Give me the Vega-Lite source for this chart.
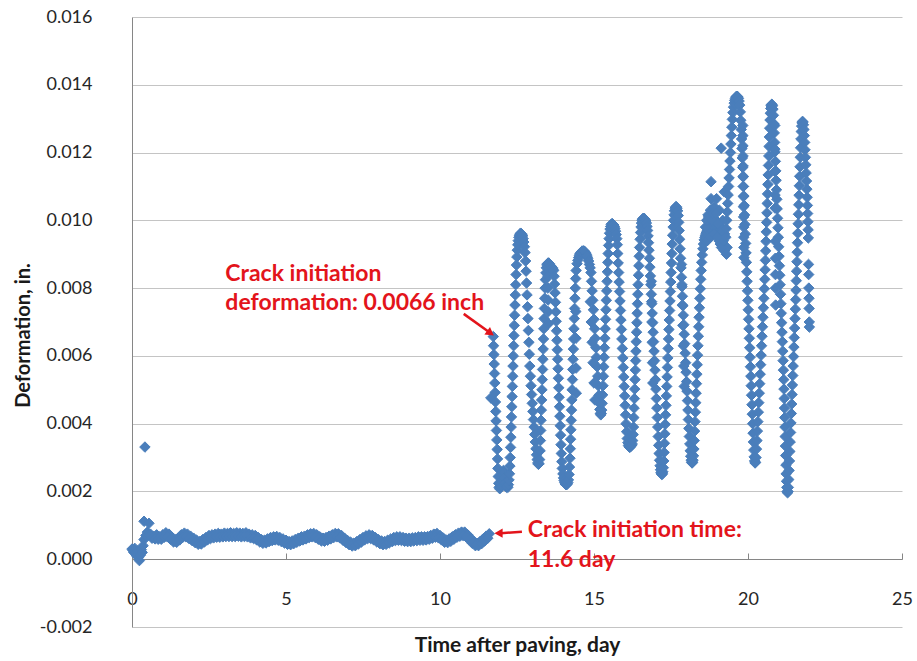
{
"$schema": "https://vega.github.io/schema/vega-lite/v6.json",
"width": 770, "height": 610,
"autosize": "none",
"padding": {"left": 132, "top": 17, "right": 15, "bottom": 34},
"background": "white",
"config": {"view": {"stroke": null}, "font": "Lato"},
"encoding": {
"x": {"field": "t", "type": "quantitative", "scale": {"domain": [0, 25], "nice": false, "zero": false},
"axis": {"title": "Time after paving, day", "values": [0,5,10,15,20,25], "grid": false, "offset": -68, "domainColor": "#868686", "tickColor": "#868686", "tickSize": -6, "labelPadding": 46, "labelBaseline": "middle", "labelFlush": false, "labelFont": "Lato", "labelFontSize": 18, "labelColor": "#262626", "titleFont": "Lato", "titleFontSize": 21, "titleFontWeight": "bold", "titleColor": "#1a1a1a", "titleY": 86, "titleBaseline": "middle"}},
"y": {"field": "v", "type": "quantitative", "scale": {"domain": [-0.002, 0.016], "nice": false, "zero": false},
"axis": {"title": "Deformation, in.", "values": [-0.002,0,0.002,0.004,0.006,0.008,0.01,0.012,0.014,0.016], "labelExpr": "datum.value < 0 ? '-' + format(-datum.value, '.3f') : format(datum.value, '.3f')", "grid": true, "gridColor": "#C4C4C4", "gridWidth": 1, "domainColor": "#868686", "ticks": false, "labelPadding": 40, "labelFont": "Lato", "labelFontSize": 18, "labelColor": "#262626", "titleFont": "Lato", "titleFontSize": 20, "titleFontWeight": "bold", "titleColor": "#1a1a1a", "titleAngle": -90, "titleX": -109, "titleY": 318, "titleBaseline": "middle", "titleAlign": "center"}}
},
"layer": [
{
"data": {"values": [
{"t":0.00,"v":0.00030},{"t":0.03,"v":0.00026},{"t":0.06,"v":0.00020},{"t":0.09,"v":0.00032},{"t":0.12,"v":0.00018},{"t":0.15,"v":0.00010},{"t":0.18,"v":0.00024},{"t":0.21,"v":0.00005},{"t":0.24,"v":-0.00004},{"t":0.27,"v":0.00012},{"t":0.30,"v":0.00028},{"t":0.33,"v":0.00020},{"t":0.36,"v":0.00040},{"t":0.39,"v":0.00058},{"t":0.39,"v":0.00112},{"t":0.42,"v":0.00331},{"t":0.55,"v":0.00106},{"t":0.45,"v":0.00070},{"t":0.50,"v":0.00080},{"t":0.55,"v":0.00072},
{"t":0.60,"v":0.00074},{"t":0.70,"v":0.00068},{"t":0.80,"v":0.00072},{"t":0.90,"v":0.00066},{"t":1.00,"v":0.00072},{"t":1.10,"v":0.00078},{"t":1.20,"v":0.00074},{"t":1.30,"v":0.00064},{"t":1.40,"v":0.00058},{"t":1.50,"v":0.00062},{"t":1.60,"v":0.00072},{"t":1.70,"v":0.00077},{"t":1.80,"v":0.00074},{"t":1.90,"v":0.00068},{"t":2.00,"v":0.00062},{"t":2.10,"v":0.00056},{"t":2.20,"v":0.00052},{"t":2.30,"v":0.00058},{"t":2.40,"v":0.00064},{"t":2.50,"v":0.00070},{"t":2.60,"v":0.00072},{"t":2.70,"v":0.00074},{"t":2.80,"v":0.00076},{"t":2.90,"v":0.00074},{"t":3.00,"v":0.00077},{"t":3.10,"v":0.00076},{"t":3.20,"v":0.00078},{"t":3.30,"v":0.00076},{"t":3.40,"v":0.00078},{"t":3.50,"v":0.00077},{"t":3.60,"v":0.00076},{"t":3.70,"v":0.00078},{"t":3.80,"v":0.00074},{"t":3.90,"v":0.00072},{"t":4.00,"v":0.00070},{"t":4.10,"v":0.00064},{"t":4.20,"v":0.00058},{"t":4.30,"v":0.00056},{"t":4.40,"v":0.00060},{"t":4.50,"v":0.00064},{"t":4.60,"v":0.00066},{"t":4.70,"v":0.00067},{"t":4.80,"v":0.00064},{"t":4.90,"v":0.00060},{"t":5.00,"v":0.00056},{"t":5.10,"v":0.00052},{"t":5.20,"v":0.00054},{"t":5.30,"v":0.00058},{"t":5.40,"v":0.00062},{"t":5.50,"v":0.00066},{"t":5.60,"v":0.00068},{"t":5.70,"v":0.00072},{"t":5.80,"v":0.00075},{"t":5.90,"v":0.00076},{"t":6.00,"v":0.00072},{"t":6.10,"v":0.00066},{"t":6.20,"v":0.00062},{"t":6.30,"v":0.00064},{"t":6.40,"v":0.00068},{"t":6.50,"v":0.00072},{"t":6.60,"v":0.00076},{"t":6.70,"v":0.00075},{"t":6.80,"v":0.00070},{"t":6.90,"v":0.00062},{"t":7.00,"v":0.00055},{"t":7.10,"v":0.00050},{"t":7.20,"v":0.00047},{"t":7.30,"v":0.00052},{"t":7.40,"v":0.00058},{"t":7.50,"v":0.00064},{"t":7.60,"v":0.00069},{"t":7.70,"v":0.00072},{"t":7.80,"v":0.00070},{"t":7.90,"v":0.00064},{"t":8.00,"v":0.00058},{"t":8.10,"v":0.00054},{"t":8.20,"v":0.00052},{"t":8.30,"v":0.00056},{"t":8.40,"v":0.00060},{"t":8.50,"v":0.00064},{"t":8.60,"v":0.00066},{"t":8.70,"v":0.00066},{"t":8.80,"v":0.00064},{"t":8.90,"v":0.00062},{"t":9.00,"v":0.00062},{"t":9.10,"v":0.00063},{"t":9.20,"v":0.00064},{"t":9.30,"v":0.00066},{"t":9.40,"v":0.00066},{"t":9.50,"v":0.00066},{"t":9.60,"v":0.00067},{"t":9.70,"v":0.00070},{"t":9.80,"v":0.00074},{"t":9.90,"v":0.00076},{"t":10.00,"v":0.00070},{"t":10.10,"v":0.00063},{"t":10.20,"v":0.00057},{"t":10.30,"v":0.00060},{"t":10.40,"v":0.00066},{"t":10.50,"v":0.00072},{"t":10.60,"v":0.00077},{"t":10.70,"v":0.00080},{"t":10.80,"v":0.00080},{"t":10.90,"v":0.00072},{"t":11.00,"v":0.00062},{"t":11.10,"v":0.00052},{"t":11.20,"v":0.00047},{"t":11.30,"v":0.00052},{"t":11.40,"v":0.00060},{"t":11.50,"v":0.00068},{"t":11.60,"v":0.00075},
{"t":0.65,"v":0.00062},{"t":0.75,"v":0.00060},{"t":0.85,"v":0.00059},{"t":0.95,"v":0.00059},{"t":1.05,"v":0.00065},{"t":1.15,"v":0.00066},{"t":1.25,"v":0.00059},{"t":1.35,"v":0.00051},{"t":1.45,"v":0.00050},{"t":1.55,"v":0.00057},{"t":1.65,"v":0.00065},{"t":1.75,"v":0.00066},{"t":1.85,"v":0.00061},{"t":1.95,"v":0.00055},{"t":2.05,"v":0.00049},{"t":2.15,"v":0.00044},{"t":2.25,"v":0.00045},{"t":2.35,"v":0.00051},{"t":2.45,"v":0.00057},{"t":2.55,"v":0.00061},{"t":2.65,"v":0.00063},{"t":2.75,"v":0.00065},{"t":2.85,"v":0.00065},{"t":2.95,"v":0.00066},{"t":3.05,"v":0.00067},{"t":3.15,"v":0.00067},{"t":3.25,"v":0.00067},{"t":3.35,"v":0.00067},{"t":3.45,"v":0.00068},{"t":3.55,"v":0.00066},{"t":3.65,"v":0.00067},{"t":3.75,"v":0.00066},{"t":3.85,"v":0.00063},{"t":3.95,"v":0.00061},{"t":4.05,"v":0.00057},{"t":4.15,"v":0.00051},{"t":4.25,"v":0.00047},{"t":4.35,"v":0.00048},{"t":4.45,"v":0.00052},{"t":4.55,"v":0.00055},{"t":4.65,"v":0.00057},{"t":4.75,"v":0.00056},{"t":4.85,"v":0.00052},{"t":4.95,"v":0.00048},{"t":5.05,"v":0.00044},{"t":5.15,"v":0.00043},{"t":5.25,"v":0.00046},{"t":5.35,"v":0.00050},{"t":5.45,"v":0.00054},{"t":5.55,"v":0.00057},{"t":5.65,"v":0.00060},{"t":5.75,"v":0.00064},{"t":5.85,"v":0.00066},{"t":5.95,"v":0.00064},{"t":6.05,"v":0.00059},{"t":6.15,"v":0.00054},{"t":6.25,"v":0.00053},{"t":6.35,"v":0.00056},{"t":6.45,"v":0.00060},{"t":6.55,"v":0.00064},{"t":6.65,"v":0.00066},{"t":6.75,"v":0.00063},{"t":6.85,"v":0.00056},{"t":6.95,"v":0.00049},{"t":7.05,"v":0.00043},{"t":7.15,"v":0.00039},{"t":7.25,"v":0.00040},{"t":7.35,"v":0.00045},{"t":7.45,"v":0.00051},{"t":7.55,"v":0.00057},{"t":7.65,"v":0.00061},{"t":7.75,"v":0.00061},{"t":7.85,"v":0.00057},{"t":7.95,"v":0.00051},{"t":8.05,"v":0.00046},{"t":8.15,"v":0.00043},{"t":8.25,"v":0.00044},{"t":8.35,"v":0.00048},{"t":8.45,"v":0.00052},{"t":8.55,"v":0.00055},{"t":8.65,"v":0.00056},{"t":8.75,"v":0.00055},{"t":8.85,"v":0.00053},{"t":8.95,"v":0.00052},{"t":9.05,"v":0.00052},{"t":9.15,"v":0.00054},{"t":9.25,"v":0.00055},{"t":9.35,"v":0.00056},{"t":9.45,"v":0.00056},{"t":9.55,"v":0.00057},{"t":9.65,"v":0.00059},{"t":9.75,"v":0.00062},{"t":9.85,"v":0.00065},{"t":9.95,"v":0.00063},{"t":10.05,"v":0.00057},{"t":10.15,"v":0.00050},{"t":10.25,"v":0.00049},{"t":10.35,"v":0.00053},{"t":10.45,"v":0.00059},{"t":10.55,"v":0.00065},{"t":10.65,"v":0.00068},{"t":10.75,"v":0.00070},{"t":10.85,"v":0.00066},{"t":10.95,"v":0.00057},{"t":11.05,"v":0.00047},{"t":11.15,"v":0.00040},{"t":11.25,"v":0.00040},{"t":11.35,"v":0.00046},{"t":11.45,"v":0.00054},{"t":11.55,"v":0.00062},
{"t":11.650,"v":0.00476},{"t":11.730,"v":0.00657},{"t":11.740,"v":0.00630},{"t":11.750,"v":0.00604},{"t":11.760,"v":0.00576},{"t":11.770,"v":0.00548},{"t":11.780,"v":0.00520},{"t":11.790,"v":0.00492},{"t":11.800,"v":0.00464},{"t":11.810,"v":0.00436},{"t":11.820,"v":0.00408},{"t":11.832,"v":0.00380},{"t":11.844,"v":0.00352},{"t":11.856,"v":0.00324},{"t":11.868,"v":0.00296},{"t":11.880,"v":0.00268},{"t":11.892,"v":0.00244},{"t":11.905,"v":0.00224},
{"t":11.920,"v":0.00212},{"t":11.940,"v":0.00208},{"t":11.960,"v":0.00214},{"t":11.980,"v":0.00222},{"t":12.000,"v":0.00216},{"t":12.020,"v":0.00232},{"t":12.040,"v":0.00250},{"t":12.060,"v":0.00262},{"t":12.080,"v":0.00256},{"t":12.100,"v":0.00240},{"t":12.120,"v":0.00226},{"t":12.140,"v":0.00216},{"t":12.160,"v":0.00212},{"t":12.180,"v":0.00214},{"t":12.200,"v":0.00212},{"t":12.220,"v":0.00220},{"t":12.240,"v":0.00234},{"t":12.255,"v":0.00252},
{"t":12.270,"v":0.00275},{"t":12.280,"v":0.00300},{"t":12.290,"v":0.00330},{"t":12.300,"v":0.00360},{"t":12.310,"v":0.00390},{"t":12.320,"v":0.00420},{"t":12.330,"v":0.00450},{"t":12.340,"v":0.00480},{"t":12.350,"v":0.00510},{"t":12.360,"v":0.00540},{"t":12.370,"v":0.00570},{"t":12.380,"v":0.00600},{"t":12.390,"v":0.00630},{"t":12.400,"v":0.00660},{"t":12.410,"v":0.00690},{"t":12.422,"v":0.00720},{"t":12.434,"v":0.00750},{"t":12.446,"v":0.00780},{"t":12.458,"v":0.00810},{"t":12.470,"v":0.00840},{"t":12.482,"v":0.00868},{"t":12.495,"v":0.00892},{"t":12.510,"v":0.00912},{"t":12.525,"v":0.00928},{"t":12.540,"v":0.00940},
{"t":12.560,"v":0.00950},{"t":12.580,"v":0.00956},{"t":12.600,"v":0.00960},{"t":12.620,"v":0.00962},{"t":12.640,"v":0.00960},{"t":12.660,"v":0.00958},{"t":12.680,"v":0.00954},{"t":12.700,"v":0.00946},{"t":12.720,"v":0.00936},{"t":12.740,"v":0.00922},
{"t":12.760,"v":0.00905},{"t":12.780,"v":0.00880},{"t":12.795,"v":0.00850},{"t":12.810,"v":0.00815},{"t":12.825,"v":0.00780},{"t":12.840,"v":0.00745},{"t":12.855,"v":0.00710},{"t":12.870,"v":0.00675},{"t":12.885,"v":0.00640},{"t":12.900,"v":0.00605},{"t":12.915,"v":0.00570},{"t":12.935,"v":0.00540},{"t":12.955,"v":0.00512},{"t":12.975,"v":0.00486},{"t":12.995,"v":0.00460},{"t":13.015,"v":0.00436},{"t":13.035,"v":0.00412},{"t":13.055,"v":0.00390},{"t":13.075,"v":0.00368},{"t":13.095,"v":0.00346},{"t":13.115,"v":0.00326},{"t":13.135,"v":0.00308},{"t":13.155,"v":0.00294},{"t":13.175,"v":0.00284},{"t":13.195,"v":0.00280},{"t":13.215,"v":0.00282},{"t":13.235,"v":0.00294},
{"t":13.250,"v":0.00320},{"t":13.260,"v":0.00350},{"t":13.270,"v":0.00380},{"t":13.280,"v":0.00410},{"t":13.290,"v":0.00440},{"t":13.300,"v":0.00470},{"t":13.310,"v":0.00500},{"t":13.320,"v":0.00530},{"t":13.330,"v":0.00560},{"t":13.340,"v":0.00590},{"t":13.350,"v":0.00620},{"t":13.360,"v":0.00650},{"t":13.370,"v":0.00680},{"t":13.380,"v":0.00710},{"t":13.390,"v":0.00740},{"t":13.400,"v":0.00770},{"t":13.412,"v":0.00800},{"t":13.424,"v":0.00825},{"t":13.438,"v":0.00845},{"t":13.452,"v":0.00860},
{"t":13.470,"v":0.00868},{"t":13.490,"v":0.00872},{"t":13.510,"v":0.00874},{"t":13.530,"v":0.00874},{"t":13.550,"v":0.00872},{"t":13.570,"v":0.00868},{"t":13.590,"v":0.00866},{"t":13.610,"v":0.00864},{"t":13.630,"v":0.00862},{"t":13.650,"v":0.00860},{"t":13.670,"v":0.00856},{"t":13.690,"v":0.00852},
{"t":13.500,"v":0.00835},{"t":13.505,"v":0.00800},{"t":13.510,"v":0.00765},{"t":13.515,"v":0.00730},{"t":13.520,"v":0.00695},
{"t":13.705,"v":0.00835},{"t":13.720,"v":0.00812},{"t":13.735,"v":0.00786},{"t":13.748,"v":0.00758},{"t":13.760,"v":0.00730},{"t":13.772,"v":0.00702},{"t":13.784,"v":0.00674},{"t":13.796,"v":0.00646},{"t":13.808,"v":0.00618},{"t":13.820,"v":0.00590},{"t":13.832,"v":0.00562},{"t":13.844,"v":0.00534},{"t":13.856,"v":0.00506},{"t":13.868,"v":0.00478},{"t":13.880,"v":0.00450},{"t":13.892,"v":0.00422},{"t":13.904,"v":0.00394},{"t":13.916,"v":0.00366},{"t":13.928,"v":0.00338},{"t":13.940,"v":0.00312},{"t":13.955,"v":0.00288},{"t":13.970,"v":0.00268},{"t":13.990,"v":0.00252},{"t":14.010,"v":0.00240},{"t":14.030,"v":0.00232},{"t":14.050,"v":0.00226},{"t":14.070,"v":0.00222},{"t":14.090,"v":0.00220},{"t":14.110,"v":0.00220},{"t":14.130,"v":0.00222},{"t":14.150,"v":0.00226},{"t":14.170,"v":0.00234},
{"t":14.190,"v":0.00250},{"t":14.205,"v":0.00272},{"t":14.220,"v":0.00298},{"t":14.230,"v":0.00326},{"t":14.240,"v":0.00354},{"t":14.250,"v":0.00382},{"t":14.260,"v":0.00410},{"t":14.270,"v":0.00440},{"t":14.280,"v":0.00470},{"t":14.290,"v":0.00500},{"t":14.300,"v":0.00530},{"t":14.310,"v":0.00560},{"t":14.320,"v":0.00590},{"t":14.330,"v":0.00620},{"t":14.340,"v":0.00650},{"t":14.350,"v":0.00680},{"t":14.360,"v":0.00710},{"t":14.370,"v":0.00740},{"t":14.380,"v":0.00770},{"t":14.392,"v":0.00800},{"t":14.405,"v":0.00828},{"t":14.420,"v":0.00852},
{"t":14.410,"v":0.00731},{"t":14.415,"v":0.00652},{"t":14.420,"v":0.00564},{"t":14.425,"v":0.00490},
{"t":14.450,"v":0.00872},{"t":14.500,"v":0.00890},{"t":14.550,"v":0.00902},{"t":14.600,"v":0.00908},{"t":14.650,"v":0.00910},{"t":14.700,"v":0.00908},{"t":14.750,"v":0.00900},{"t":14.800,"v":0.00888},{"t":14.850,"v":0.00870},{"t":14.900,"v":0.00846},{"t":14.475,"v":0.00882},{"t":14.525,"v":0.00897},{"t":14.575,"v":0.00905},{"t":14.625,"v":0.00909},{"t":14.675,"v":0.00909},{"t":14.725,"v":0.00904},{"t":14.775,"v":0.00895},{"t":14.825,"v":0.00880},{"t":14.875,"v":0.00860},
{"t":14.920,"v":0.00820},{"t":14.940,"v":0.00792},{"t":14.960,"v":0.00764},{"t":14.980,"v":0.00736},{"t":15.000,"v":0.00708},{"t":15.020,"v":0.00680},{"t":15.040,"v":0.00652},{"t":15.060,"v":0.00624},{"t":15.080,"v":0.00596},{"t":15.100,"v":0.00568},{"t":15.120,"v":0.00540},{"t":15.140,"v":0.00512},{"t":15.160,"v":0.00484},{"t":15.175,"v":0.00460},{"t":15.190,"v":0.00442},{"t":15.205,"v":0.00430},{"t":15.220,"v":0.00426},{"t":15.235,"v":0.00430},
{"t":14.880,"v":0.00760},{"t":14.910,"v":0.00700},{"t":14.940,"v":0.00640},{"t":14.970,"v":0.00580},{"t":15.000,"v":0.00520},{"t":15.030,"v":0.00470},
{"t":15.250,"v":0.00440},{"t":15.265,"v":0.00460},{"t":15.280,"v":0.00485},{"t":15.292,"v":0.00512},{"t":15.304,"v":0.00540},{"t":15.316,"v":0.00568},{"t":15.328,"v":0.00596},{"t":15.340,"v":0.00624},{"t":15.352,"v":0.00652},{"t":15.364,"v":0.00680},{"t":15.376,"v":0.00708},{"t":15.388,"v":0.00736},{"t":15.400,"v":0.00764},{"t":15.412,"v":0.00792},{"t":15.424,"v":0.00820},{"t":15.436,"v":0.00848},{"t":15.448,"v":0.00876},{"t":15.460,"v":0.00902},{"t":15.475,"v":0.00926},{"t":15.490,"v":0.00946},{"t":15.505,"v":0.00962},{"t":15.520,"v":0.00974},
{"t":15.540,"v":0.00982},{"t":15.560,"v":0.00988},{"t":15.580,"v":0.00990},{"t":15.600,"v":0.00990},{"t":15.620,"v":0.00988},{"t":15.640,"v":0.00986},{"t":15.660,"v":0.00982},{"t":15.680,"v":0.00976},{"t":15.700,"v":0.00968},{"t":15.720,"v":0.00958},{"t":15.740,"v":0.00946},
{"t":15.755,"v":0.00928},{"t":15.770,"v":0.00902},{"t":15.785,"v":0.00874},{"t":15.800,"v":0.00846},{"t":15.815,"v":0.00818},{"t":15.830,"v":0.00790},{"t":15.845,"v":0.00762},{"t":15.860,"v":0.00734},{"t":15.875,"v":0.00706},{"t":15.890,"v":0.00678},{"t":15.905,"v":0.00650},{"t":15.920,"v":0.00622},{"t":15.935,"v":0.00594},{"t":15.950,"v":0.00566},{"t":15.965,"v":0.00538},{"t":15.980,"v":0.00510},{"t":15.995,"v":0.00482},{"t":16.010,"v":0.00454},{"t":16.025,"v":0.00426},{"t":16.040,"v":0.00400},{"t":16.060,"v":0.00376},{"t":16.080,"v":0.00356},{"t":16.100,"v":0.00344},{"t":16.120,"v":0.00336},{"t":16.140,"v":0.00332},{"t":16.160,"v":0.00330},{"t":16.180,"v":0.00332},{"t":16.200,"v":0.00334},{"t":16.220,"v":0.00336},{"t":16.240,"v":0.00340},
{"t":16.255,"v":0.00350},{"t":16.270,"v":0.00368},{"t":16.282,"v":0.00390},{"t":16.292,"v":0.00418},{"t":16.302,"v":0.00446},{"t":16.312,"v":0.00474},{"t":16.322,"v":0.00502},{"t":16.332,"v":0.00530},{"t":16.342,"v":0.00558},{"t":16.352,"v":0.00586},{"t":16.362,"v":0.00614},{"t":16.372,"v":0.00642},{"t":16.382,"v":0.00670},{"t":16.392,"v":0.00698},{"t":16.402,"v":0.00726},{"t":16.412,"v":0.00754},{"t":16.422,"v":0.00782},{"t":16.432,"v":0.00810},{"t":16.444,"v":0.00838},{"t":16.456,"v":0.00866},{"t":16.468,"v":0.00894},{"t":16.482,"v":0.00920},{"t":16.497,"v":0.00944},{"t":16.512,"v":0.00964},{"t":16.527,"v":0.00980},{"t":16.542,"v":0.00992},
{"t":16.560,"v":0.01000},{"t":16.580,"v":0.01004},{"t":16.600,"v":0.01006},{"t":16.620,"v":0.01006},{"t":16.640,"v":0.01004},{"t":16.660,"v":0.01002},{"t":16.680,"v":0.00998},{"t":16.700,"v":0.00992},{"t":16.720,"v":0.00982},{"t":16.740,"v":0.00970},
{"t":16.755,"v":0.00954},{"t":16.770,"v":0.00934},{"t":16.785,"v":0.00912},{"t":16.800,"v":0.00888},{"t":16.815,"v":0.00862},{"t":16.830,"v":0.00836},{"t":16.845,"v":0.00810},{"t":16.860,"v":0.00782},{"t":16.875,"v":0.00754},{"t":16.890,"v":0.00726},{"t":16.905,"v":0.00698},{"t":16.920,"v":0.00670},{"t":16.935,"v":0.00642},{"t":16.950,"v":0.00614},{"t":16.965,"v":0.00586},{"t":16.980,"v":0.00558},{"t":16.995,"v":0.00530},{"t":17.010,"v":0.00502},{"t":17.025,"v":0.00474},{"t":17.040,"v":0.00446},{"t":17.055,"v":0.00418},{"t":17.070,"v":0.00390},{"t":17.085,"v":0.00362},{"t":17.100,"v":0.00336},{"t":17.115,"v":0.00312},{"t":17.130,"v":0.00292},{"t":17.145,"v":0.00276},{"t":17.160,"v":0.00264},{"t":17.175,"v":0.00256},{"t":17.190,"v":0.00252},{"t":17.205,"v":0.00250},{"t":17.220,"v":0.00252},{"t":17.235,"v":0.00258},
{"t":16.860,"v":0.00820},{"t":16.870,"v":0.00760},{"t":16.880,"v":0.00700},{"t":16.890,"v":0.00640},{"t":16.900,"v":0.00580},{"t":16.910,"v":0.00520},
{"t":17.250,"v":0.00270},{"t":17.264,"v":0.00290},{"t":17.276,"v":0.00315},{"t":17.288,"v":0.00342},{"t":17.300,"v":0.00370},{"t":17.312,"v":0.00398},{"t":17.324,"v":0.00426},{"t":17.336,"v":0.00454},{"t":17.348,"v":0.00482},{"t":17.360,"v":0.00510},{"t":17.372,"v":0.00538},{"t":17.384,"v":0.00566},{"t":17.396,"v":0.00594},{"t":17.408,"v":0.00622},{"t":17.420,"v":0.00650},{"t":17.432,"v":0.00678},{"t":17.444,"v":0.00706},{"t":17.456,"v":0.00734},{"t":17.468,"v":0.00762},{"t":17.480,"v":0.00790},{"t":17.492,"v":0.00818},{"t":17.504,"v":0.00846},{"t":17.516,"v":0.00874},{"t":17.528,"v":0.00902},{"t":17.540,"v":0.00930},{"t":17.554,"v":0.00956},{"t":17.569,"v":0.00980},{"t":17.584,"v":0.01000},{"t":17.599,"v":0.01016},{"t":17.614,"v":0.01028},
{"t":17.635,"v":0.01036},{"t":17.655,"v":0.01040},{"t":17.675,"v":0.01040},{"t":17.695,"v":0.01036},{"t":17.715,"v":0.01028},
{"t":17.735,"v":0.01014},{"t":17.750,"v":0.00994},{"t":17.765,"v":0.00970},{"t":17.780,"v":0.00944},{"t":17.795,"v":0.00916},{"t":17.810,"v":0.00888},{"t":17.825,"v":0.00860},{"t":17.840,"v":0.00832},{"t":17.855,"v":0.00804},{"t":17.870,"v":0.00776},{"t":17.885,"v":0.00748},{"t":17.900,"v":0.00720},{"t":17.915,"v":0.00692},{"t":17.930,"v":0.00664},{"t":17.945,"v":0.00636},{"t":17.960,"v":0.00608},{"t":17.975,"v":0.00580},{"t":17.990,"v":0.00552},{"t":18.005,"v":0.00524},{"t":18.020,"v":0.00496},{"t":18.035,"v":0.00468},{"t":18.050,"v":0.00440},{"t":18.065,"v":0.00412},{"t":18.080,"v":0.00386},{"t":18.095,"v":0.00362},{"t":18.110,"v":0.00340},{"t":18.125,"v":0.00320},{"t":18.140,"v":0.00304},{"t":18.155,"v":0.00292},{"t":18.170,"v":0.00286},{"t":18.185,"v":0.00284},{"t":18.200,"v":0.00286},{"t":18.215,"v":0.00292},
{"t":17.840,"v":0.00870},{"t":17.855,"v":0.00810},{"t":17.870,"v":0.00750},{"t":17.885,"v":0.00690},{"t":17.900,"v":0.00630},{"t":17.915,"v":0.00570},{"t":17.930,"v":0.00510},
{"t":18.230,"v":0.00305},{"t":18.243,"v":0.00325},{"t":18.255,"v":0.00350},{"t":18.267,"v":0.00378},{"t":18.279,"v":0.00406},{"t":18.291,"v":0.00434},{"t":18.303,"v":0.00462},{"t":18.315,"v":0.00490},{"t":18.327,"v":0.00518},{"t":18.339,"v":0.00546},{"t":18.351,"v":0.00574},{"t":18.363,"v":0.00602},{"t":18.375,"v":0.00630},{"t":18.387,"v":0.00658},{"t":18.399,"v":0.00686},{"t":18.411,"v":0.00714},{"t":18.423,"v":0.00742},{"t":18.435,"v":0.00770},{"t":18.450,"v":0.00798},{"t":18.465,"v":0.00826},{"t":18.480,"v":0.00852},{"t":18.495,"v":0.00876},{"t":18.515,"v":0.00898},{"t":18.535,"v":0.00916},{"t":18.555,"v":0.00930},{"t":18.575,"v":0.00942},
{"t":18.600,"v":0.00950},{"t":18.620,"v":0.00956},{"t":18.640,"v":0.00962},{"t":18.660,"v":0.00966},{"t":18.680,"v":0.00970},{"t":18.700,"v":0.00974},{"t":18.720,"v":0.00980},{"t":18.740,"v":0.00984},{"t":18.760,"v":0.00990},{"t":18.780,"v":0.00986},{"t":18.800,"v":0.00978},{"t":18.820,"v":0.00970},{"t":18.840,"v":0.00976},{"t":18.860,"v":0.00984},{"t":18.880,"v":0.00992},{"t":18.900,"v":0.00998},{"t":18.920,"v":0.01004},{"t":18.940,"v":0.01000},{"t":18.960,"v":0.00990},{"t":18.980,"v":0.00980},{"t":19.000,"v":0.00972},{"t":19.020,"v":0.00966},{"t":19.040,"v":0.00962},{"t":19.060,"v":0.00966},{"t":19.080,"v":0.00974},{"t":19.100,"v":0.00984},{"t":19.120,"v":0.00978},{"t":19.140,"v":0.00964},{"t":19.160,"v":0.00950},{"t":19.180,"v":0.00936},{"t":19.200,"v":0.00922},{"t":19.220,"v":0.00912},{"t":19.240,"v":0.00910},{"t":19.260,"v":0.00920},
{"t":18.700,"v":0.01016},{"t":18.780,"v":0.01030},{"t":18.800,"v":0.01064},{"t":18.800,"v":0.01114},{"t":18.900,"v":0.01040},{"t":18.980,"v":0.01064},{"t":19.070,"v":0.01030},{"t":19.130,"v":0.01213},{"t":19.230,"v":0.01084},{"t":19.180,"v":0.01000},{"t":19.300,"v":0.00900},{"t":19.320,"v":0.00920},
{"t":18.620,"v":0.00980},{"t":18.660,"v":0.01000},{"t":18.720,"v":0.01010},{"t":18.840,"v":0.01000},{"t":18.860,"v":0.01020},{"t":18.960,"v":0.01020},{"t":19.020,"v":0.00990},{"t":19.060,"v":0.00940},{"t":19.100,"v":0.00930},{"t":19.140,"v":0.00920},{"t":19.200,"v":0.00940},{"t":19.240,"v":0.00960},{"t":18.680,"v":0.00940},{"t":18.780,"v":0.00950},{"t":18.900,"v":0.00960},{"t":19.000,"v":0.00950},
{"t":19.280,"v":0.00950},{"t":19.295,"v":0.00975},{"t":19.310,"v":0.01000},{"t":19.325,"v":0.01025},{"t":19.340,"v":0.01050},{"t":19.355,"v":0.01075},{"t":19.370,"v":0.01100},{"t":19.385,"v":0.01125},{"t":19.400,"v":0.01150},{"t":19.415,"v":0.01175},{"t":19.430,"v":0.01200},{"t":19.445,"v":0.01225},{"t":19.460,"v":0.01250},{"t":19.475,"v":0.01275},{"t":19.492,"v":0.01298},{"t":19.510,"v":0.01318},{"t":19.530,"v":0.01334},{"t":19.550,"v":0.01346},
{"t":19.570,"v":0.01354},{"t":19.590,"v":0.01360},{"t":19.610,"v":0.01364},{"t":19.630,"v":0.01366},{"t":19.650,"v":0.01366},{"t":19.670,"v":0.01364},{"t":19.690,"v":0.01360},{"t":19.710,"v":0.01352},{"t":19.730,"v":0.01340},
{"t":19.750,"v":0.01320},{"t":19.765,"v":0.01295},{"t":19.780,"v":0.01268},{"t":19.792,"v":0.01240},{"t":19.804,"v":0.01212},{"t":19.816,"v":0.01184},{"t":19.828,"v":0.01156},{"t":19.840,"v":0.01128},{"t":19.852,"v":0.01100},{"t":19.864,"v":0.01072},{"t":19.876,"v":0.01044},{"t":19.888,"v":0.01016},{"t":19.900,"v":0.00988},{"t":19.912,"v":0.00960},{"t":19.924,"v":0.00932},{"t":19.936,"v":0.00904},{"t":19.948,"v":0.00876},{"t":19.960,"v":0.00848},{"t":19.972,"v":0.00820},{"t":19.984,"v":0.00792},{"t":19.996,"v":0.00764},{"t":20.008,"v":0.00736},{"t":20.020,"v":0.00708},{"t":20.032,"v":0.00680},{"t":20.044,"v":0.00652},{"t":20.056,"v":0.00624},{"t":20.068,"v":0.00596},{"t":20.080,"v":0.00568},{"t":20.092,"v":0.00540},{"t":20.104,"v":0.00512},{"t":20.116,"v":0.00484},{"t":20.128,"v":0.00456},{"t":20.140,"v":0.00428},{"t":20.152,"v":0.00400},{"t":20.164,"v":0.00372},{"t":20.176,"v":0.00346},{"t":20.188,"v":0.00322},{"t":20.200,"v":0.00302},{"t":20.215,"v":0.00290},{"t":20.230,"v":0.00284},{"t":20.245,"v":0.00286},
{"t":19.830,"v":0.01280},{"t":19.833,"v":0.01250},{"t":19.836,"v":0.01220},{"t":19.839,"v":0.01190},{"t":19.842,"v":0.01160},{"t":19.845,"v":0.01130},{"t":19.848,"v":0.01100},{"t":19.851,"v":0.01070},{"t":19.854,"v":0.01040},{"t":19.857,"v":0.01010},{"t":19.860,"v":0.00980},{"t":19.863,"v":0.00950},{"t":19.866,"v":0.00920},{"t":19.869,"v":0.00890},
{"t":20.260,"v":0.00300},{"t":20.275,"v":0.00325},{"t":20.290,"v":0.00350},{"t":20.305,"v":0.00378},{"t":20.320,"v":0.00406},{"t":20.335,"v":0.00434},{"t":20.350,"v":0.00462},{"t":20.365,"v":0.00490},{"t":20.380,"v":0.00518},{"t":20.395,"v":0.00546},{"t":20.410,"v":0.00574},{"t":20.425,"v":0.00602},{"t":20.440,"v":0.00630},{"t":20.455,"v":0.00658},{"t":20.470,"v":0.00686},{"t":20.485,"v":0.00714},{"t":20.500,"v":0.00742},{"t":20.515,"v":0.00770},{"t":20.530,"v":0.00798},{"t":20.545,"v":0.00826},{"t":20.555,"v":0.00854},{"t":20.565,"v":0.00882},{"t":20.575,"v":0.00910},{"t":20.585,"v":0.00938},{"t":20.595,"v":0.00966},{"t":20.605,"v":0.00994},{"t":20.615,"v":0.01022},{"t":20.625,"v":0.01050},{"t":20.635,"v":0.01078},{"t":20.645,"v":0.01106},{"t":20.655,"v":0.01134},{"t":20.665,"v":0.01162},{"t":20.675,"v":0.01190},{"t":20.685,"v":0.01218},{"t":20.695,"v":0.01246},{"t":20.705,"v":0.01272},{"t":20.715,"v":0.01296},{"t":20.725,"v":0.01316},{"t":20.738,"v":0.01330},
{"t":20.750,"v":0.01338},{"t":20.765,"v":0.01342},{"t":20.780,"v":0.01342},{"t":20.795,"v":0.01338},{"t":20.810,"v":0.01328},
{"t":20.825,"v":0.01310},{"t":20.840,"v":0.01285},{"t":20.852,"v":0.01258},{"t":20.864,"v":0.01230},{"t":20.876,"v":0.01202},{"t":20.888,"v":0.01174},{"t":20.900,"v":0.01146},{"t":20.912,"v":0.01118},{"t":20.924,"v":0.01090},{"t":20.936,"v":0.01062},{"t":20.948,"v":0.01034},{"t":20.960,"v":0.01006},{"t":20.972,"v":0.00978},{"t":20.984,"v":0.00950},{"t":20.996,"v":0.00922},{"t":21.008,"v":0.00894},{"t":21.020,"v":0.00866},{"t":21.032,"v":0.00838},{"t":21.044,"v":0.00810},{"t":21.056,"v":0.00782},{"t":21.068,"v":0.00754},{"t":21.080,"v":0.00726},{"t":21.092,"v":0.00698},{"t":21.104,"v":0.00670},{"t":21.116,"v":0.00642},{"t":21.128,"v":0.00614},{"t":21.140,"v":0.00586},{"t":21.150,"v":0.00558},{"t":21.160,"v":0.00530},{"t":21.168,"v":0.00502},{"t":21.176,"v":0.00474},{"t":21.184,"v":0.00446},{"t":21.192,"v":0.00418},{"t":21.200,"v":0.00390},{"t":21.208,"v":0.00362},{"t":21.216,"v":0.00334},{"t":21.224,"v":0.00306},{"t":21.232,"v":0.00278},{"t":21.240,"v":0.00252},{"t":21.250,"v":0.00230},{"t":21.260,"v":0.00212},{"t":21.272,"v":0.00200},{"t":21.285,"v":0.00196},{"t":21.298,"v":0.00200},
{"t":20.870,"v":0.01280},{"t":20.872,"v":0.01210},{"t":20.875,"v":0.01144},{"t":20.878,"v":0.01075},{"t":20.880,"v":0.01036},{"t":20.885,"v":0.00938},{"t":20.888,"v":0.00888},{"t":20.891,"v":0.00840},{"t":20.894,"v":0.00800},{"t":20.897,"v":0.00750},
{"t":21.310,"v":0.00212},{"t":21.322,"v":0.00235},{"t":21.334,"v":0.00262},{"t":21.346,"v":0.00290},{"t":21.358,"v":0.00318},{"t":21.370,"v":0.00346},{"t":21.382,"v":0.00374},{"t":21.394,"v":0.00402},{"t":21.406,"v":0.00430},{"t":21.418,"v":0.00458},{"t":21.430,"v":0.00486},{"t":21.442,"v":0.00514},{"t":21.454,"v":0.00542},{"t":21.466,"v":0.00570},{"t":21.478,"v":0.00598},{"t":21.490,"v":0.00626},{"t":21.502,"v":0.00654},{"t":21.514,"v":0.00682},{"t":21.526,"v":0.00710},{"t":21.538,"v":0.00738},{"t":21.548,"v":0.00766},{"t":21.558,"v":0.00794},{"t":21.568,"v":0.00822},{"t":21.578,"v":0.00850},{"t":21.588,"v":0.00878},{"t":21.598,"v":0.00906},{"t":21.608,"v":0.00934},{"t":21.618,"v":0.00962},{"t":21.628,"v":0.00990},{"t":21.638,"v":0.01018},{"t":21.648,"v":0.01046},{"t":21.658,"v":0.01074},{"t":21.668,"v":0.01102},{"t":21.678,"v":0.01130},{"t":21.688,"v":0.01158},{"t":21.698,"v":0.01186},{"t":21.708,"v":0.01214},{"t":21.718,"v":0.01240},{"t":21.730,"v":0.01262},{"t":21.742,"v":0.01278},
{"t":21.756,"v":0.01288},{"t":21.770,"v":0.01292},{"t":21.785,"v":0.01290},{"t":21.800,"v":0.01282},
{"t":21.815,"v":0.01268},{"t":21.828,"v":0.01250},{"t":21.840,"v":0.01230},{"t":21.852,"v":0.01208},{"t":21.864,"v":0.01186},{"t":21.876,"v":0.01164},{"t":21.888,"v":0.01140},{"t":21.900,"v":0.01116},{"t":21.910,"v":0.01092},{"t":21.920,"v":0.01068},{"t":21.928,"v":0.01044},{"t":21.936,"v":0.01020},{"t":21.944,"v":0.00996},{"t":21.952,"v":0.00972},{"t":21.958,"v":0.00948},{"t":21.965,"v":0.00870},{"t":21.970,"v":0.00840},{"t":21.975,"v":0.00800},{"t":21.980,"v":0.00770},{"t":21.985,"v":0.00740},{"t":21.990,"v":0.00700},{"t":21.993,"v":0.00685}
]},
"mark": {"type": "point", "shape": "diamond", "filled": true, "size": 110, "color": "#4A7EBB", "stroke": "#4A7EBB", "strokeWidth": 1, "opacity": 1}
},
{
"data": {"values": [{"t": 10.77, "v": 0.00724, "t2": 11.58, "v2": 0.00671}, {"t": 12.66, "v": 0.00081, "t2": 11.98, "v2": 0.00077}]},
"mark": {"type": "rule", "color": "#E3141B", "strokeWidth": 2.5},
"encoding": {"x2": {"field": "t2"}, "y2": {"field": "v2"}}
},
{
"data": {"values": [{"t": 11.64, "v": 0.00667}]},
"mark": {"type": "point", "shape": "triangle-right", "filled": true, "size": 90, "angle": 36, "color": "#E3141B", "opacity": 1}
},
{
"data": {"values": [{"t": 11.9, "v": 0.00077}]},
"mark": {"type": "point", "shape": "triangle-left", "filled": true, "size": 90, "color": "#E3141B", "opacity": 1}
},
{
"data": {"values": [
{"t": 3.03, "v": 0.00843, "label": "Crack initiation"},
{"t": 3.03, "v": 0.00755, "label": "deformation: 0.0066 inch"},
{"t": 12.85, "v": 0.00087, "label": "Crack initiation time:"},
{"t": 12.85, "v": -0.00001, "label": "11.6 day"}
]},
"mark": {"type": "text", "align": "left", "baseline": "middle", "font": "Lato", "fontSize": 23, "fontWeight": "bold", "color": "#E3141B"},
"encoding": {"text": {"field": "label"}}
}
]
}
